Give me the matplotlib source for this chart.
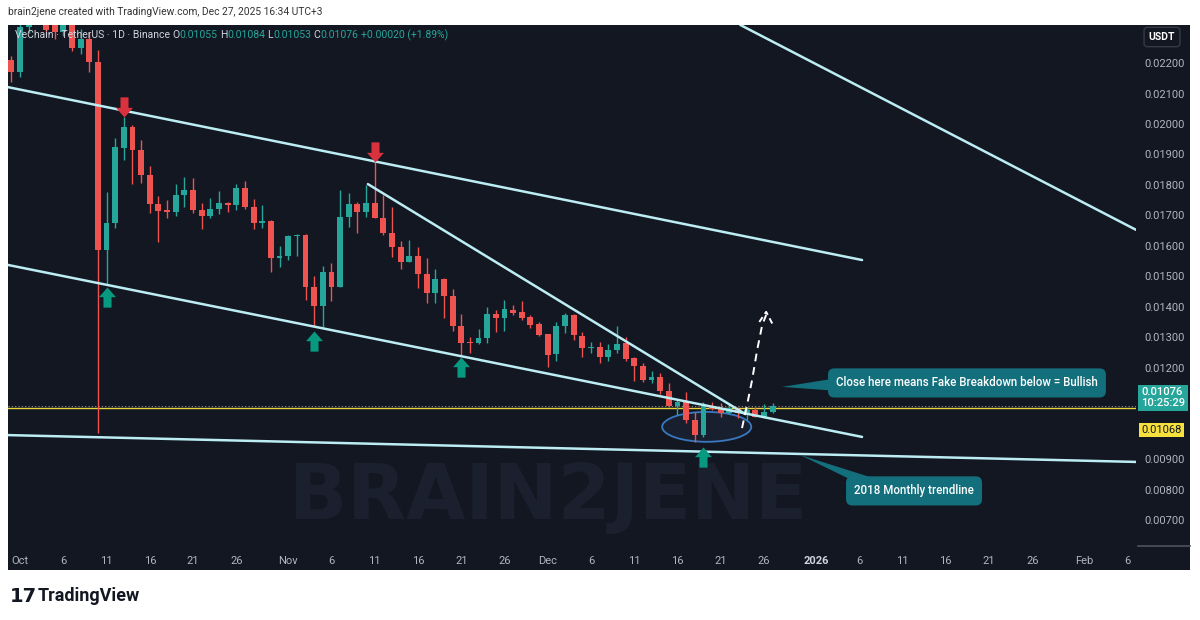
import numpy as np
import pandas as pd
import matplotlib
matplotlib.use("Agg")
import matplotlib.pyplot as plt
from matplotlib.path import Path
from matplotlib.patches import Rectangle, Ellipse, Polygon

plt.rcParams['font.family'] = ['Roboto', 'DejaVu Sans']

# ---- data: VET/USDT daily candles, Sep 30 -> Dec 27 2025 ----
dates = pd.date_range("2025-09-30", "2025-12-27", freq="D")
opens = [.02210, .02170, .02318, .02395, .02440, .02330, .02302, .02380, .02249, .02279,
         .02203, .01587, .01675, .01921, .01990, .01915, .01833, .01738, .01718, .01713,
         .01767, .01784, .01718, .01698, .01721, .01741, .01734, .01790, .01728, .01675,
         .01682, .01561, .01567, .01633, .01636, .01466, .01403, .01515, .01466, .01695,
         .01738, .01712, .01741, .01692, .01643, .01597, .01548, .01567, .01508, .01446,
         .01492, .01436, .01338, .01285, .01282, .01298, .01377, .01364, .01390, .01384,
         .01367, .01344, .01311, .01246, .01338, .01374, .01305, .01266, .01269, .01236,
         .01259, .01282, .01233, .01207, .01161, .01171, .01125, .01075, .01089, .01030,
         .00980, .01075, .01066, .01052, .01066, .01052, .01062, .01039, .01055]
highs = [.02222, .02330, .02420, .02480, .02460, .02360, .02420, .02400, .02310, .02300,
         .02243, .01777, .01954, .02023, .01997, .01948, .01862, .01764, .01751, .01803,
         .01826, .01823, .01741, .01757, .01780, .01744, .01803, .01813, .01754, .01734,
         .01686, .01600, .01636, .01640, .01640, .01502, .01534, .01544, .01784, .01774,
         .01744, .01800, .01882, .01767, .01728, .01616, .01620, .01597, .01561, .01525,
         .01495, .01459, .01377, .01302, .01328, .01400, .01390, .01423, .01407, .01420,
         .01374, .01351, .01313, .01351, .01380, .01377, .01318, .01285, .01285, .01279,
         .01338, .01302, .01236, .01216, .01190, .01184, .01151, .01098, .01121, .01056,
         .01089, .01089, .01085, .01085, .01072, .01072, .01072, .01082, .01084]
lows = [.02138, .02154, .02300, .02370, .02290, .02280, .02290, .02240, .02230, .02170,
        .00987, .01472, .01659, .01882, .01803, .01807, .01708, .01613, .01692, .01698,
        .01728, .01708, .01656, .01692, .01705, .01711, .01718, .01721, .01656, .01659,
        .01515, .01531, .01554, .01567, .01423, .01338, .01334, .01420, .01466, .01662,
        .01643, .01695, .01692, .01636, .01564, .01525, .01548, .01462, .01413, .01413,
        .01364, .01321, .01243, .01249, .01280, .01282, .01318, .01321, .01374, .01357,
        .01331, .01305, .01203, .01223, .01315, .01292, .01236, .01249, .01216, .01223,
        .01249, .01223, .01157, .01154, .01151, .01115, .01072, .01046, .01020, .00957,
        .00974, .01062, .01039, .01049, .01036, .01029, .01039, .01036, .01053]
closes = [.02170, .02318, .02395, .02440, .02308, .02302, .02380, .02249, .02279, .02203,
          .01587, .01675, .01925, .01990, .01915, .01833, .01738, .01715, .01713, .01767,
          .01784, .01718, .01698, .01721, .01741, .01734, .01790, .01728, .01675, .01682,
          .01561, .01567, .01633, .01636, .01466, .01403, .01515, .01466, .01695, .01738,
          .01712, .01741, .01692, .01643, .01597, .01548, .01567, .01508, .01446, .01492,
          .01436, .01338, .01282, .01282, .01298, .01377, .01364, .01393, .01380, .01364,
          .01341, .01308, .01243, .01338, .01374, .01308, .01266, .01269, .01236, .01259,
          .01279, .01230, .01207, .01161, .01171, .01125, .01075, .01089, .01030, .00980,
          .01075, .01066, .01052, .01069, .01052, .01062, .01039, .01055, .01076]

# trendlines drawn on the chart: (date, price) endpoints
upper_channel = [("2025-09-29 14:00", 0.02121), ("2026-01-06 08:00", 0.01554)]
lower_channel = [("2025-09-29 14:00", 0.01538), ("2026-01-06 08:00", 0.00974)]
wedge_line = [("2025-11-10 05:00", 0.01803), ("2025-12-23 20:00", 0.01049)]
monthly_2018 = [("2025-09-29 14:00", 0.00980), ("2026-02-07", 0.00892)]
top_right = [("2025-12-23 06:00", 0.02325), ("2026-02-07", 0.01653)]

up_arrows = [("2025-10-11", 0.01466), ("2025-11-04", 0.01321),
             ("2025-11-21", 0.01236), ("2025-12-19", 0.00941)]
down_arrows = [("2025-10-13", 0.02023), ("2025-11-11", 0.01875)]

dashed_path = [("2025-12-23 11:00", 0.01003), ("2025-12-24 01:00", 0.01079),
               ("2025-12-24 15:00", 0.01161), ("2025-12-25 05:00", 0.01259),
               ("2025-12-25 19:00", 0.01341), ("2025-12-26 06:00", 0.01374)]

last_price = 0.01076
yellow_level = 0.01068

tick_dates = ["2025-10-01", "2025-10-06", "2025-10-11", "2025-10-16", "2025-10-21",
              "2025-10-26", "2025-11-01", "2025-11-06", "2025-11-11", "2025-11-16",
              "2025-11-21", "2025-11-26", "2025-12-01", "2025-12-06", "2025-12-11",
              "2025-12-16", "2025-12-21", "2025-12-26", "2026-01-01", "2026-01-06",
              "2026-01-11", "2026-01-16", "2026-01-21", "2026-01-26", "2026-02-01",
              "2026-02-06"]
tick_labels = ["Oct", "6", "11", "16", "21", "26", "Nov", "6", "11", "16", "21", "26",
               "Dec", "6", "11", "16", "21", "26", "2026", "6", "11", "16", "21", "26",
               "Feb", "6"]
# 0.01000 sits under the price badges, so it is not listed
price_ticks = [0.007, 0.008, 0.009, 0.011, 0.012, 0.013, 0.014, 0.015,
               0.016, 0.017, 0.018, 0.019, 0.020, 0.021, 0.022]

T0 = pd.Timestamp("2025-10-01")


def day(s):
    return (pd.Timestamp(s) - T0) / pd.Timedelta(days=1)


BG = "#131722"
GREEN = "#26a69a"
RED = "#ef5350"
LINE = "#bcedf3"
TXT = "#b2b5be"
CALL = "#136f7b"

W, H = 1200, 620
fig = plt.figure(figsize=(12, 6.2), dpi=100, facecolor="white")
fig.patches.append(Rectangle((8 / W, 1 - 570 / H), 1182 / W, 545 / H,
                             transform=fig.transFigure, facecolor=BG, edgecolor="none", zorder=-5))
fig.lines.append(plt.Line2D([1138 / W, 1190 / W], [1 - 546 / H, 1 - 546 / H],
                            transform=fig.transFigure, color="#50535e", lw=1.2, zorder=-4))
ax = fig.add_axes([8 / W, 1 - 548 / H, 1128 / W, 523 / H])
ax.set_zorder(1)
ax.set_facecolor(BG)
for s in ax.spines.values():
    s.set_visible(False)

x = np.array([day(d) for d in dates])
o = np.array(opens); h = np.array(highs); l = np.array(lows); c = np.array(closes)
cols = np.where(c >= o, GREEN, RED)

# watermark
ax.text(day("2025-12-01"), 0.00774, "BRAIN2JENE", fontsize=55, fontweight="bold",
        family="DejaVu Sans", color="#1a202d", ha="center", va="center", zorder=0)

ax.vlines(x, l, h, colors=cols, lw=1, zorder=3)
body_lo = np.minimum(o, c)
body_h = np.maximum(np.abs(c - o), 0.00004)
ax.bar(x, body_h, bottom=body_lo, width=0.68, color=cols, zorder=4)

for line in [upper_channel, lower_channel, wedge_line, monthly_2018, top_right]:
    ax.plot([day(p[0]) for p in line], [p[1] for p in line], color=LINE, lw=1.8,
            solid_capstyle="round", zorder=5)

ax.axhline(yellow_level, color="#e9d53b", lw=1, zorder=2)
ax.axhline(last_price, color="#8a8f9c", lw=0.8, ls=(0, (1, 2)), zorder=2)

ax.add_patch(Ellipse((day("2025-12-19 09:00"), 0.01007), 10.3, 0.00098,
                     facecolor="#182030", edgecolor="#3a78c0", lw=1.3, zorder=2))

# block arrows
up_shape = Path([(0, 0), (-0.42, -0.48), (-0.2, -0.48), (-0.2, -1), (0.2, -1),
                 (0.2, -0.48), (0.42, -0.48), (0, 0)], closed=True)
down_shape = Path([(vx, -vy) for vx, vy in up_shape.vertices], closed=True)
ax.scatter([day(a[0]) for a in up_arrows], [a[1] for a in up_arrows], marker=up_shape,
           s=29 ** 2, color="#089981", zorder=6, linewidths=0)
ax.scatter([day(a[0]) for a in down_arrows], [a[1] for a in down_arrows], marker=down_shape,
           s=29 ** 2, color="#d9323e", zorder=6, linewidths=0)

# dashed projection
ax.plot([day(p[0]) for p in dashed_path], [p[1] for p in dashed_path], color="white",
        lw=1.4, ls=(0, (4, 3)), zorder=6)
ax.plot([day("2025-12-25 11:00"), day("2025-12-26 06:00"), day("2025-12-27 01:00")],
        [0.01351, 0.01384, 0.01341], color="white", lw=1.4, ls=(0, (3, 2)), zorder=6)

# callouts
box = dict(boxstyle="round,pad=0.7,rounding_size=0.55", facecolor=CALL, edgecolor="none")
ax.add_patch(Polygon([(day("2025-12-28 02:00"), 0.01138), (day("2026-01-03 12:00"), 0.01167),
                      (day("2026-01-03 12:00"), 0.01125)], closed=True, facecolor=CALL,
                     edgecolor="none", zorder=7))
ax.text(109.46, 0.01151, "Close here means Fake Breakdown below = Bullish",
        color="white", fontsize=8.3, fontweight="medium", ha="center", va="center",
        zorder=8, bbox=box)

ax.add_patch(Polygon([(day("2025-12-30 04:00"), 0.00915), (day("2026-01-05 04:00"), 0.00832),
                      (day("2026-01-08 10:00"), 0.00832)], closed=True, facecolor=CALL,
                     edgecolor="none", zorder=7))
ax.text(103.34, 0.00797, "2018 Monthly trendline",
        color="white", fontsize=8.3, fontweight="medium", ha="center", va="center",
        zorder=8, bbox=box)

ax.set_xlim(-1.39, 129.0)
ax.set_ylim(0.006098, 0.023246)

ax.set_xticks([day(d) for d in tick_dates])
ax.set_xticklabels(tick_labels)
ax.tick_params(axis="x", length=0, pad=6, labelsize=8, labelcolor=TXT)
for lab in ax.get_xticklabels():
    if lab.get_text() == "2026":
        lab.set_fontweight("bold")
        lab.set_color("#d1d4dc")

ax.yaxis.tick_right()
ax.set_yticks(price_ticks)
ax.set_yticklabels([f"{v:.5f}" for v in price_ticks])
ax.tick_params(axis="y", length=0, pad=6, labelsize=8, labelcolor=TXT)

ytr = ax.get_yaxis_transform()
ax.text(1.0045, 0.01103, "0.01076\n10:25:29", transform=ytr, ha="left", va="center",
        fontsize=8, color="white", linespacing=1.05, fontweight="medium", zorder=10, clip_on=False,
        bbox=dict(boxstyle="square,pad=0.25", facecolor=GREEN, edgecolor="none"))
ax.text(1.0045, 0.00997, "0.01068", transform=ytr, ha="left", va="center",
        fontsize=8, color="#131722", zorder=10, clip_on=False,
        bbox=dict(boxstyle="square,pad=0.2", facecolor="#f5e03c", edgecolor="none"))

# header / footer
fig.text(8 / W, 1 - 12 / H, "brain2jene created with TradingView.com, Dec 27, 2025 16:34 UTC+3",
         fontsize=7.4, color="#333333", va="center")
fig.text(1162 / W, 1 - 37 / H, "USDT", fontsize=7.5, color="white", fontweight="bold",
         ha="center", va="center", zorder=5,
         bbox=dict(boxstyle="round,pad=0.45,rounding_size=0.3", facecolor=BG, edgecolor="#363a45"))

head = [("VeChain · TetherUS · 1D · Binance", 15, "#d1d4dc"), ("O", 172, "#d1d4dc"),
        ("0.01055", 179, GREEN), ("H", 220, "#d1d4dc"), ("0.01084", 227, GREEN),
        ("L", 267, "#d1d4dc"), ("0.01053", 273, GREEN), ("C", 313, "#d1d4dc"),
        ("0.01076", 320, GREEN), ("+0.00020 (+1.89%)", 361, GREEN)]
for t, px, col in head:
    fig.text(px / W, 1 - 35 / H, t, fontsize=7.5, color=col, va="center", zorder=5)

fig.text(10 / W, 1 - 596 / H, "17", fontsize=14, fontweight="heavy", color="#131722",
         family="DejaVu Sans", va="center")
fig.text(38 / W, 1 - 596 / H, "TradingView", fontsize=13, fontweight="bold", color="#131722",
         va="center")

fig.savefig("out.png", dpi=100, facecolor="white")
